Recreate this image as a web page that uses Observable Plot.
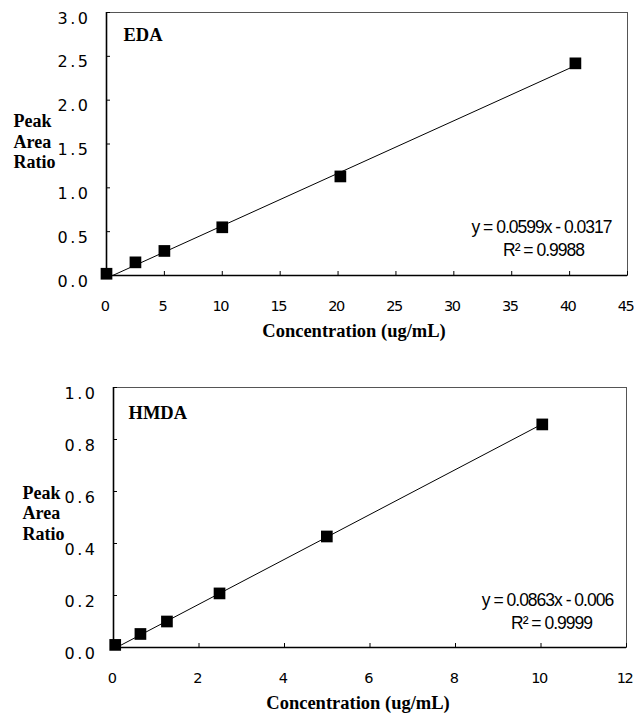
<!DOCTYPE html>
<html><head><meta charset="utf-8">
<script src="https://cdn.jsdelivr.net/npm/d3@7"></script>
<script src="https://cdn.jsdelivr.net/npm/@observablehq/plot@0.6"></script>
<style>
body{margin:0;background:#fff}
#c{width:634px}
#c svg{display:block}
g[aria-label="y-axis tick label"] text{letter-spacing:2.5px}
g[aria-label="x-axis tick label"] text{letter-spacing:-1.5px}
g.eqn text{letter-spacing:-1px}
</style>
</head><body><div id="c"></div>
<script>
// EDA calibration
const edaConc = [0, 2.5, 5, 10, 20.2, 40.5];
const edaRatio = [0.02, 0.15, 0.28, 0.55, 1.13, 2.42];
const edaSlope = 0.0599;
const edaIntercept = -0.0317;
const edaEquation = "y = 0.0599x - 0.0317";
const edaR2 = "R² = 0.9988";
const edaXTicks = [0, 5, 10, 15, 20, 25, 30, 35, 40, 45];
const edaYTicks = [0, 0.5, 1.0, 1.5, 2.0, 2.5, 3.0];

// HMDA calibration
const hmdaConc = [0.04, 0.63, 1.25, 2.48, 4.99, 10.03];
const hmdaRatio = [0.01, 0.052, 0.10, 0.208, 0.427, 0.858];
const hmdaSlope = 0.0863;
const hmdaIntercept = -0.006;
const hmdaEquation = "y = 0.0863x - 0.006";
const hmdaR2 = "R² = 0.9999";
const hmdaXTicks = [0, 2, 4, 6, 8, 10, 12];
const hmdaYTicks = [0, 0.2, 0.4, 0.6, 0.8, 1.0];

const yTitle = "Peak\nArea\nRatio";
const xTitle = "Concentration (ug/mL)";

function chart(o) {
  const pts = o.conc.map((c, i) => ({x: c, y: o.ratio[i]}));
  const xs = d3.extent(o.conc);
  const fit = xs.map(x => ({x, y: o.slope * x + o.intercept}));
  const serif = "Liberation Serif, Times New Roman, serif";
  return Plot.plot({
    width: 634,
    height: o.height,
    marginLeft: o.ml, marginRight: o.mr, marginTop: o.mt, marginBottom: o.mb,
    style: {fontFamily: "DejaVu Sans, sans-serif", fontSize: "15px", color: "#000", background: "#fff", overflow: "visible"},
    x: {domain: [o.xTicks[0], o.xTicks[o.xTicks.length - 1]]},
    y: {domain: [o.yTicks[0], o.yTicks[o.yTicks.length - 1]]},
    marks: [
      Plot.frame({stroke: "#555", strokeWidth: 1}),
      Plot.line(fit, {x: "x", y: "y", stroke: "#000", strokeWidth: 1, clip: true}),
      Plot.dot(pts, {x: "x", y: "y", symbol: "square", r: 6.6, fill: "#000", stroke: "none"}),
      Plot.ruleX([o.xTicks[0]], {stroke: "#000", strokeWidth: 1.6}),
      Plot.ruleY([o.yTicks[0]], {stroke: "#000", strokeWidth: 1.6}),
      Plot.axisX(o.xTicks, {tickSize: -4, text: null, label: null, stroke: "#000"}),
      Plot.axisX(o.xTicks, {tickSize: 0, tickPadding: 25, dx: -2, label: null, tickFormat: d3.format("d"), fontSize: 14.5, fontFamily: "DejaVu Sans, sans-serif"}),
      Plot.axisY(o.yTicks, {tickSize: -4, text: null, label: null, stroke: "#000"}),
      Plot.axisY(o.yTicks, {tickSize: 0, tickPadding: 16, dy: 6, label: null, tickFormat: d3.format(".1f"), fontSize: 16}),
      Plot.text([xTitle], {frameAnchor: "bottom", dx: o.xtDx, dy: o.xtDy, fontFamily: serif, fontWeight: "bold", fontSize: 18.5, textAnchor: "middle"}),
      Plot.text([yTitle], {frameAnchor: "left", dx: o.ytDx, dy: o.ytDy, fontFamily: serif, fontWeight: "bold", fontSize: 18, textAnchor: "start", lineHeight: 1.14}),
      Plot.text([o.name], {frameAnchor: "top-left", dx: o.nDx, dy: o.nDy, fontFamily: serif, fontWeight: "bold", fontSize: 18.5, textAnchor: "start", lineAnchor: "middle"}),
      Plot.text([o.eq], {className: "eqn", frameAnchor: "bottom-right", dx: o.eqDx, dy: o.eqDy, fontFamily: "Liberation Sans, sans-serif", fontSize: 17.5, textAnchor: "middle", lineAnchor: "middle"}),
      Plot.text([o.r2], {className: "eqn", frameAnchor: "bottom-right", dx: o.r2Dx, dy: o.r2Dy, fontFamily: "Liberation Sans, sans-serif", fontSize: 17.5, textAnchor: "middle", lineAnchor: "middle"})
    ]
  });
}

const c = document.getElementById("c");
c.appendChild(chart({
  conc: edaConc, ratio: edaRatio, slope: edaSlope, intercept: edaIntercept,
  xTicks: edaXTicks, yTicks: edaYTicks, name: "EDA", eq: edaEquation, r2: edaR2,
  height: 350, ml: 106, mr: 7, mt: 12, mb: 75,
  xtDx: -13, xtDy: 61, ytDx: -93, ytDy: -3, nDx: 17, nDy: 23,
  eqDx: -86, eqDy: -48, r2Dx: -84, r2Dy: -25
}));
c.appendChild(chart({
  conc: hmdaConc, ratio: hmdaRatio, slope: hmdaSlope, intercept: hmdaIntercept,
  xTicks: hmdaXTicks, yTicks: hmdaYTicks, name: "HMDA", eq: hmdaEquation, r2: hmdaR2,
  height: 367, ml: 113, mr: 8, mt: 37, mb: 70,
  xtDx: -12, xtDy: 61, ytDx: -91, ytDy: -5, nDx: 15, nDy: 26,
  eqDx: -79, eqDy: -47, r2Dx: -75, r2Dy: -24
}));
</script>
</body></html>
